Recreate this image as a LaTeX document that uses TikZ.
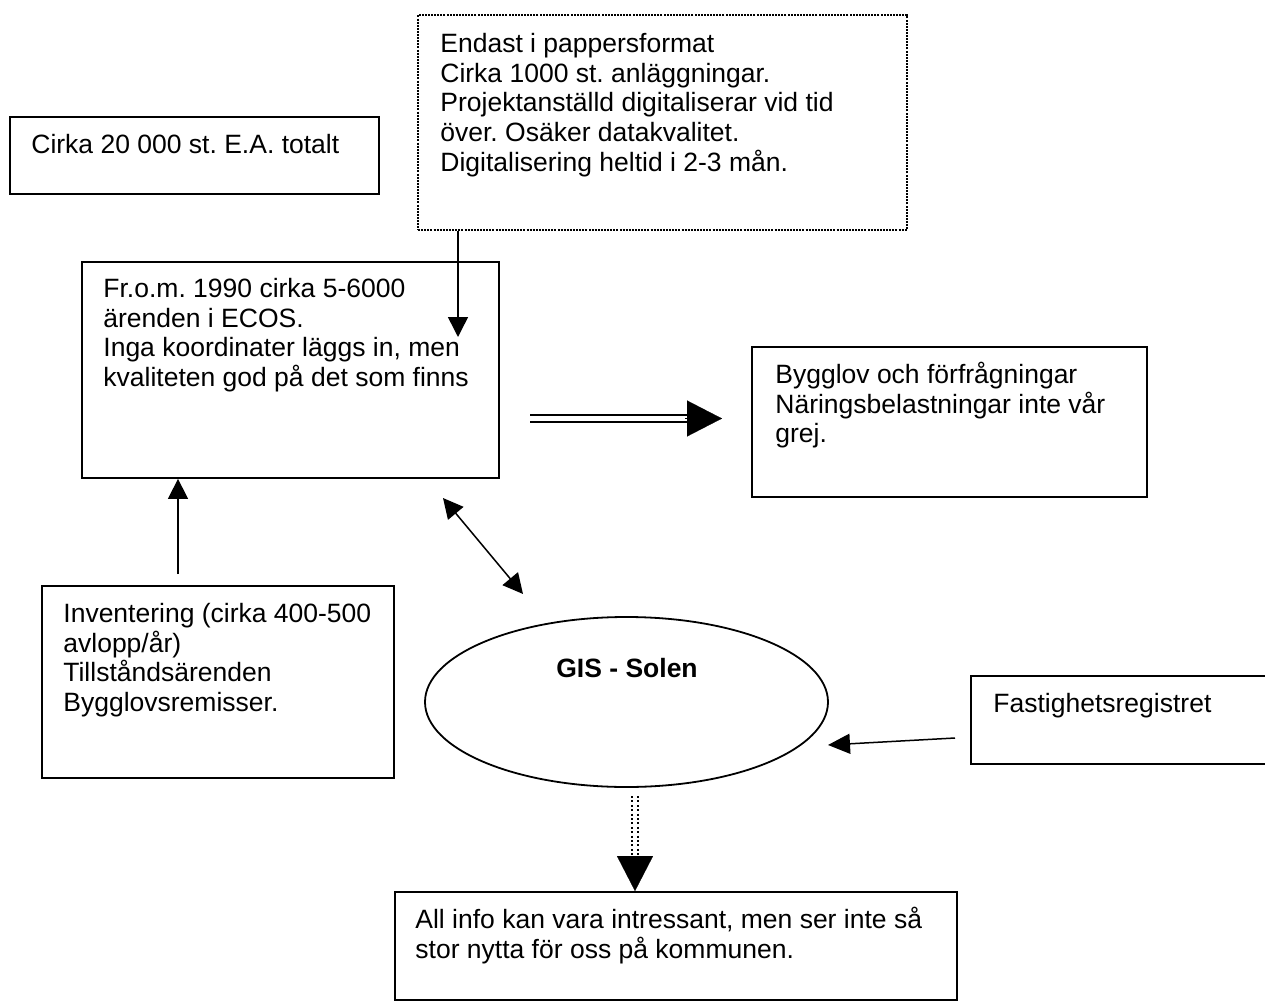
\documentclass[tikz,border=0pt]{standalone}
\usepackage{fontspec}
\setmainfont{Liberation Sans}
\usetikzlibrary{arrows.meta,fit,shapes.geometric}
\frenchspacing
% strut that fixes the height of the first text line
\newcommand\firstln{\rule{0pt}{12pt}}
\tikzset{
  box/.style={draw, line width=0.9pt, inner sep=0pt},
  dotbox/.style={draw, line width=1.1pt, dash pattern=on 1pt off 0.55pt, inner sep=0pt},
  txt/.style={anchor=north west, inner sep=0pt, align=left,
              font=\fontsize{13.25pt}{14.85pt}\selectfont},
  arr/.style={line width=0.75pt, -{Triangle[length=10pt,width=10pt]}},
  biarr/.style={line width=0.75pt,
                {Triangle[length=10pt,width=10pt]}-{Triangle[length=10pt,width=10pt]}},
  dblarr/.style={double, double distance=2.5pt, line width=1pt},
  dotline/.style={line width=1.1pt, dash pattern=on 1pt off 1.2pt},
  bighead/.style={line width=0.1pt, -{Triangle[length=17.5pt,width=18pt]}},
}
\begin{document}
\begin{tikzpicture}[x=0.5pt, y=-0.5pt]
  \useasboundingbox (0,0) rectangle (1265,1001);
  \clip (0,0) rectangle (1265,1001);

  % boxes
  \node[box, fit={(10,117) (379,194)}] (tot) {};
  \node[dotbox, fit={(418,15) (907,230)}] (pap) {};
  \node[box, fit={(82,262) (499,478)}] (ecos) {};
  \node[box, fit={(752,347) (1147,497)}] (bygg) {};
  \node[box, fit={(42,586) (394,778)}] (inv) {};
  \node[box, fit={(971,676) (1290,764)}] (fast) {};
  \node[box, fit={(395,892) (957,1000)}] (info) {};
  \node[ellipse, draw, line width=0.9pt, inner sep=0pt,
        minimum width=201.5pt, minimum height=85pt] (gis) at (626.5,702) {};

  % texts
  \node[txt] (tott) at (31,129) {\firstln Cirka 20 000 st. E.A. totalt};
  \node[txt] (papt) at (440,28) {\firstln Endast i pappersformat\\
    Cirka 1000 st. anläggningar.\\
    Projektanställd digitaliserar vid tid\\
    över. Osäker datakvalitet.\\
    Digitalisering heltid i 2-3 mån.};
  \node[txt] (ecost) at (103,273) {\firstln Fr.o.m. 1990 cirka 5-6000\\
    ärenden i ECOS.\\
    Inga koordinater läggs in, men\\
    kvaliteten god på det som finns};
  \node[txt] (byggt) at (775,359) {\firstln Bygglov och förfrågningar\\
    Näringsbelastningar inte vår\\
    grej.};
  \node[txt] (invt) at (63,598) {\firstln Inventering (cirka 400-500\\
    avlopp/år)\\
    Tillståndsärenden\\
    Bygglovsremisser.};
  \node[txt] (fastt) at (993,688) {\firstln Fastighetsregistret};
  \node[txt] (infot) at (415,904) {\firstln All info kan vara intressant, men ser inte så\\
    stor nytta för oss på kommunen.};
  \node[anchor=base, inner sep=0pt, font=\fontsize{13.25pt}{14.85pt}\selectfont\bfseries]
    (gist) at (627,677) {GIS - Solen};

  % connector end points
  \coordinate (papin) at (458,337);
  \coordinate (invtail) at (178,574);
  \coordinate (ecosbi) at (443,498);
  \coordinate (gisbi) at (523,594);
  \coordinate (dbls) at (530,418.5);
  \coordinate (dblh) at (687,418.5);
  \coordinate (dble) at (722,418.5);
  \coordinate (fasttail) at (955,738);
  \coordinate (gisin) at (828,745);
  \coordinate (gisout) at (635,796);
  \coordinate (infohead) at (635,857);

  % connectors
  \draw[arr] (pap.south -| papin) -- (papin);
  \draw[arr] (invtail) -- (ecos.south -| invtail);
  \draw[biarr] (ecosbi) -- (gisbi);
  \draw[dblarr] (dbls) -- (dblh);
  \draw[bighead] ([xshift=-1pt]dblh) -- (dble);
  \draw[line width=0.75pt, -{Triangle[length=11pt,width=10pt]}] (fasttail) -- (gisin);
  \draw[dotline] ([xshift=-1.5pt]gisout) -- ([xshift=-1.5pt]infohead);
  \draw[dotline] ([xshift=1.5pt]gisout) -- ([xshift=1.5pt]infohead);
  \draw[bighead] (infohead) -- (info.north -| infohead);
\end{tikzpicture}
\end{document}
